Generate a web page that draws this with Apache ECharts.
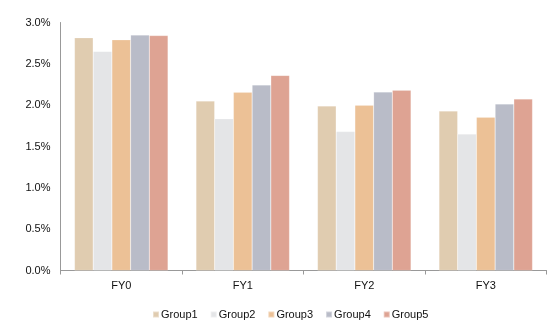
<!DOCTYPE html>
<html><head><meta charset="utf-8">
<script src="https://cdn.jsdelivr.net/npm/echarts@6/dist/echarts.min.js"></script>
<style>html,body{margin:0;padding:0;background:#fff}#c{width:558px;height:323px}</style>
</head><body><div id="c"></div>
<script>
var categories = ['FY0', 'FY1', 'FY2', 'FY3'];
var group1 = [2.815, 2.05, 1.99, 1.93];
var group2 = [2.65, 1.835, 1.68, 1.65];
var group3 = [2.79, 2.155, 2.00, 1.855];
var group4 = [2.848, 2.245, 2.16, 2.015];
var group5 = [2.842, 2.36, 2.18, 2.075];
var seriesNames = ['Group1', 'Group2', 'Group3', 'Group4', 'Group5'];
var yTicks = [0, 0.5, 1.0, 1.5, 2.0, 2.5, 3.0];
var colors = ['#E0CCB0', '#E4E5E7', '#ECC196', '#B9BCC8', '#DEA393'];
var data = [group1, group2, group3, group4, group5];

var chart = echarts.init(document.getElementById('c'));
var font = 'Liberation Sans, Arial, sans-serif';
chart.setOption({
  animation: false,
  textStyle: {fontFamily: font},
  grid: {left: 60.5, right: 11.5, top: 22.5, bottom: 52.5, containLabel: false},
  legend: {
    top: 304, left: 147,
    itemWidth: 6, itemHeight: 6, itemGap: 12,
    icon: 'rect',
    textStyle: {fontSize: 11, color: '#111', fontFamily: font, padding: [0, 0, 0, -3]},
    data: seriesNames
  },
  xAxis: {
    type: 'category', data: categories,
    axisLine: {lineStyle: {color: '#999', width: 1}},
    axisTick: {show: true, length: 4, lineStyle: {color: '#999'}},
    axisLabel: {fontSize: 11, color: '#111', margin: 10, fontFamily: font}
  },
  yAxis: {
    type: 'value', min: yTicks[0], max: yTicks[yTicks.length - 1], interval: 0.5,
    axisLine: {show: true, lineStyle: {color: '#999', width: 1}},
    axisTick: {show: false},
    splitLine: {show: false},
    axisLabel: {fontSize: 11, color: '#111', margin: 10, fontFamily: font,
      formatter: function (v) { return v.toFixed(1) + '%'; }}
  },
  series: seriesNames.map(function (n, i) {
    return {
      name: n, type: 'bar', data: data[i],
      barGap: '0%', barCategoryGap: '23%',
      itemStyle: {color: colors[i], borderColor: 'rgba(255,255,255,0.35)', borderWidth: 0.5}
    };
  })
});
</script></body></html>
